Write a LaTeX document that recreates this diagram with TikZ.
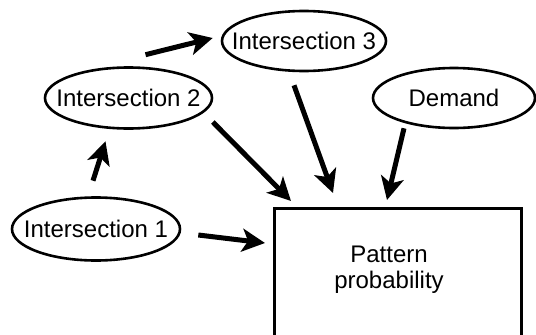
\documentclass[tikz,border=0pt]{standalone}
\usepackage{fontspec}
\setmainfont{Liberation Sans}
\usetikzlibrary{shapes.geometric,arrows.meta,calc}
\newcommand{\ctxt}[1]{\makebox[0pt][c]{\raisebox{-.36em}[0pt][0pt]{#1}}}
\begin{document}
\begin{tikzpicture}[x=1pt,y=-1pt,
  lbl/.style={font=\fontsize{24}{26.5}\selectfont},
  ell/.style={ellipse, draw, line width=2.6pt, inner sep=0pt, text height=0pt, text depth=0pt, lbl},
  boxst/.style={rectangle, draw, line width=3pt, inner sep=0pt},
  arr/.style={line width=5pt, -{Stealth[length=23pt, width=23pt, inset=6pt]}}]
\clip (0,0) rectangle (536,335);
\node[ell, minimum width=168, minimum height=63] (i1) at (96,229) {\ctxt{Intersection 1}};
\node[ell, minimum width=167, minimum height=61] (i2) at (128.5,98) {\ctxt{Intersection 2}};
\node[ell, minimum width=164, minimum height=60] (i3) at (304,41) {\ctxt{Intersection 3}};
\node[ell, minimum width=162, minimum height=60] (dem) at (454,98) {\ctxt{Demand}};
\node[boxst, anchor=north west, minimum width=247, minimum height=170] (pp) at (273,207) {};
\node[lbl, align=center, inner sep=0pt] (pptext) at (389,269.5) {Pattern\\probability};
\draw[arr] ($(i1.east)+(17,6)$) -- ($(pp.north west)+(-8,36)$);
\draw[arr] ($(i1.north)+(-3,-15.5)$) -- ($(i2.south)+(-23,11.5)$);
\draw[arr] ($(i2.north)+(17,-11.5)$) -- ($(i3.west)+(-8,-3)$);
\draw[arr] ($(i2.east)+(-0.5,24)$) -- ($(pp.north west)+(18,-6)$);
\draw[arr] ($(i3.south)+(-10,13)$) -- ($(pp.north west)+(60,-14)$);
\draw[arr] ($(dem.south)+(-50,-1)$) -- ($(pp.north west)+(114,-7)$);
\end{tikzpicture}
\end{document}
